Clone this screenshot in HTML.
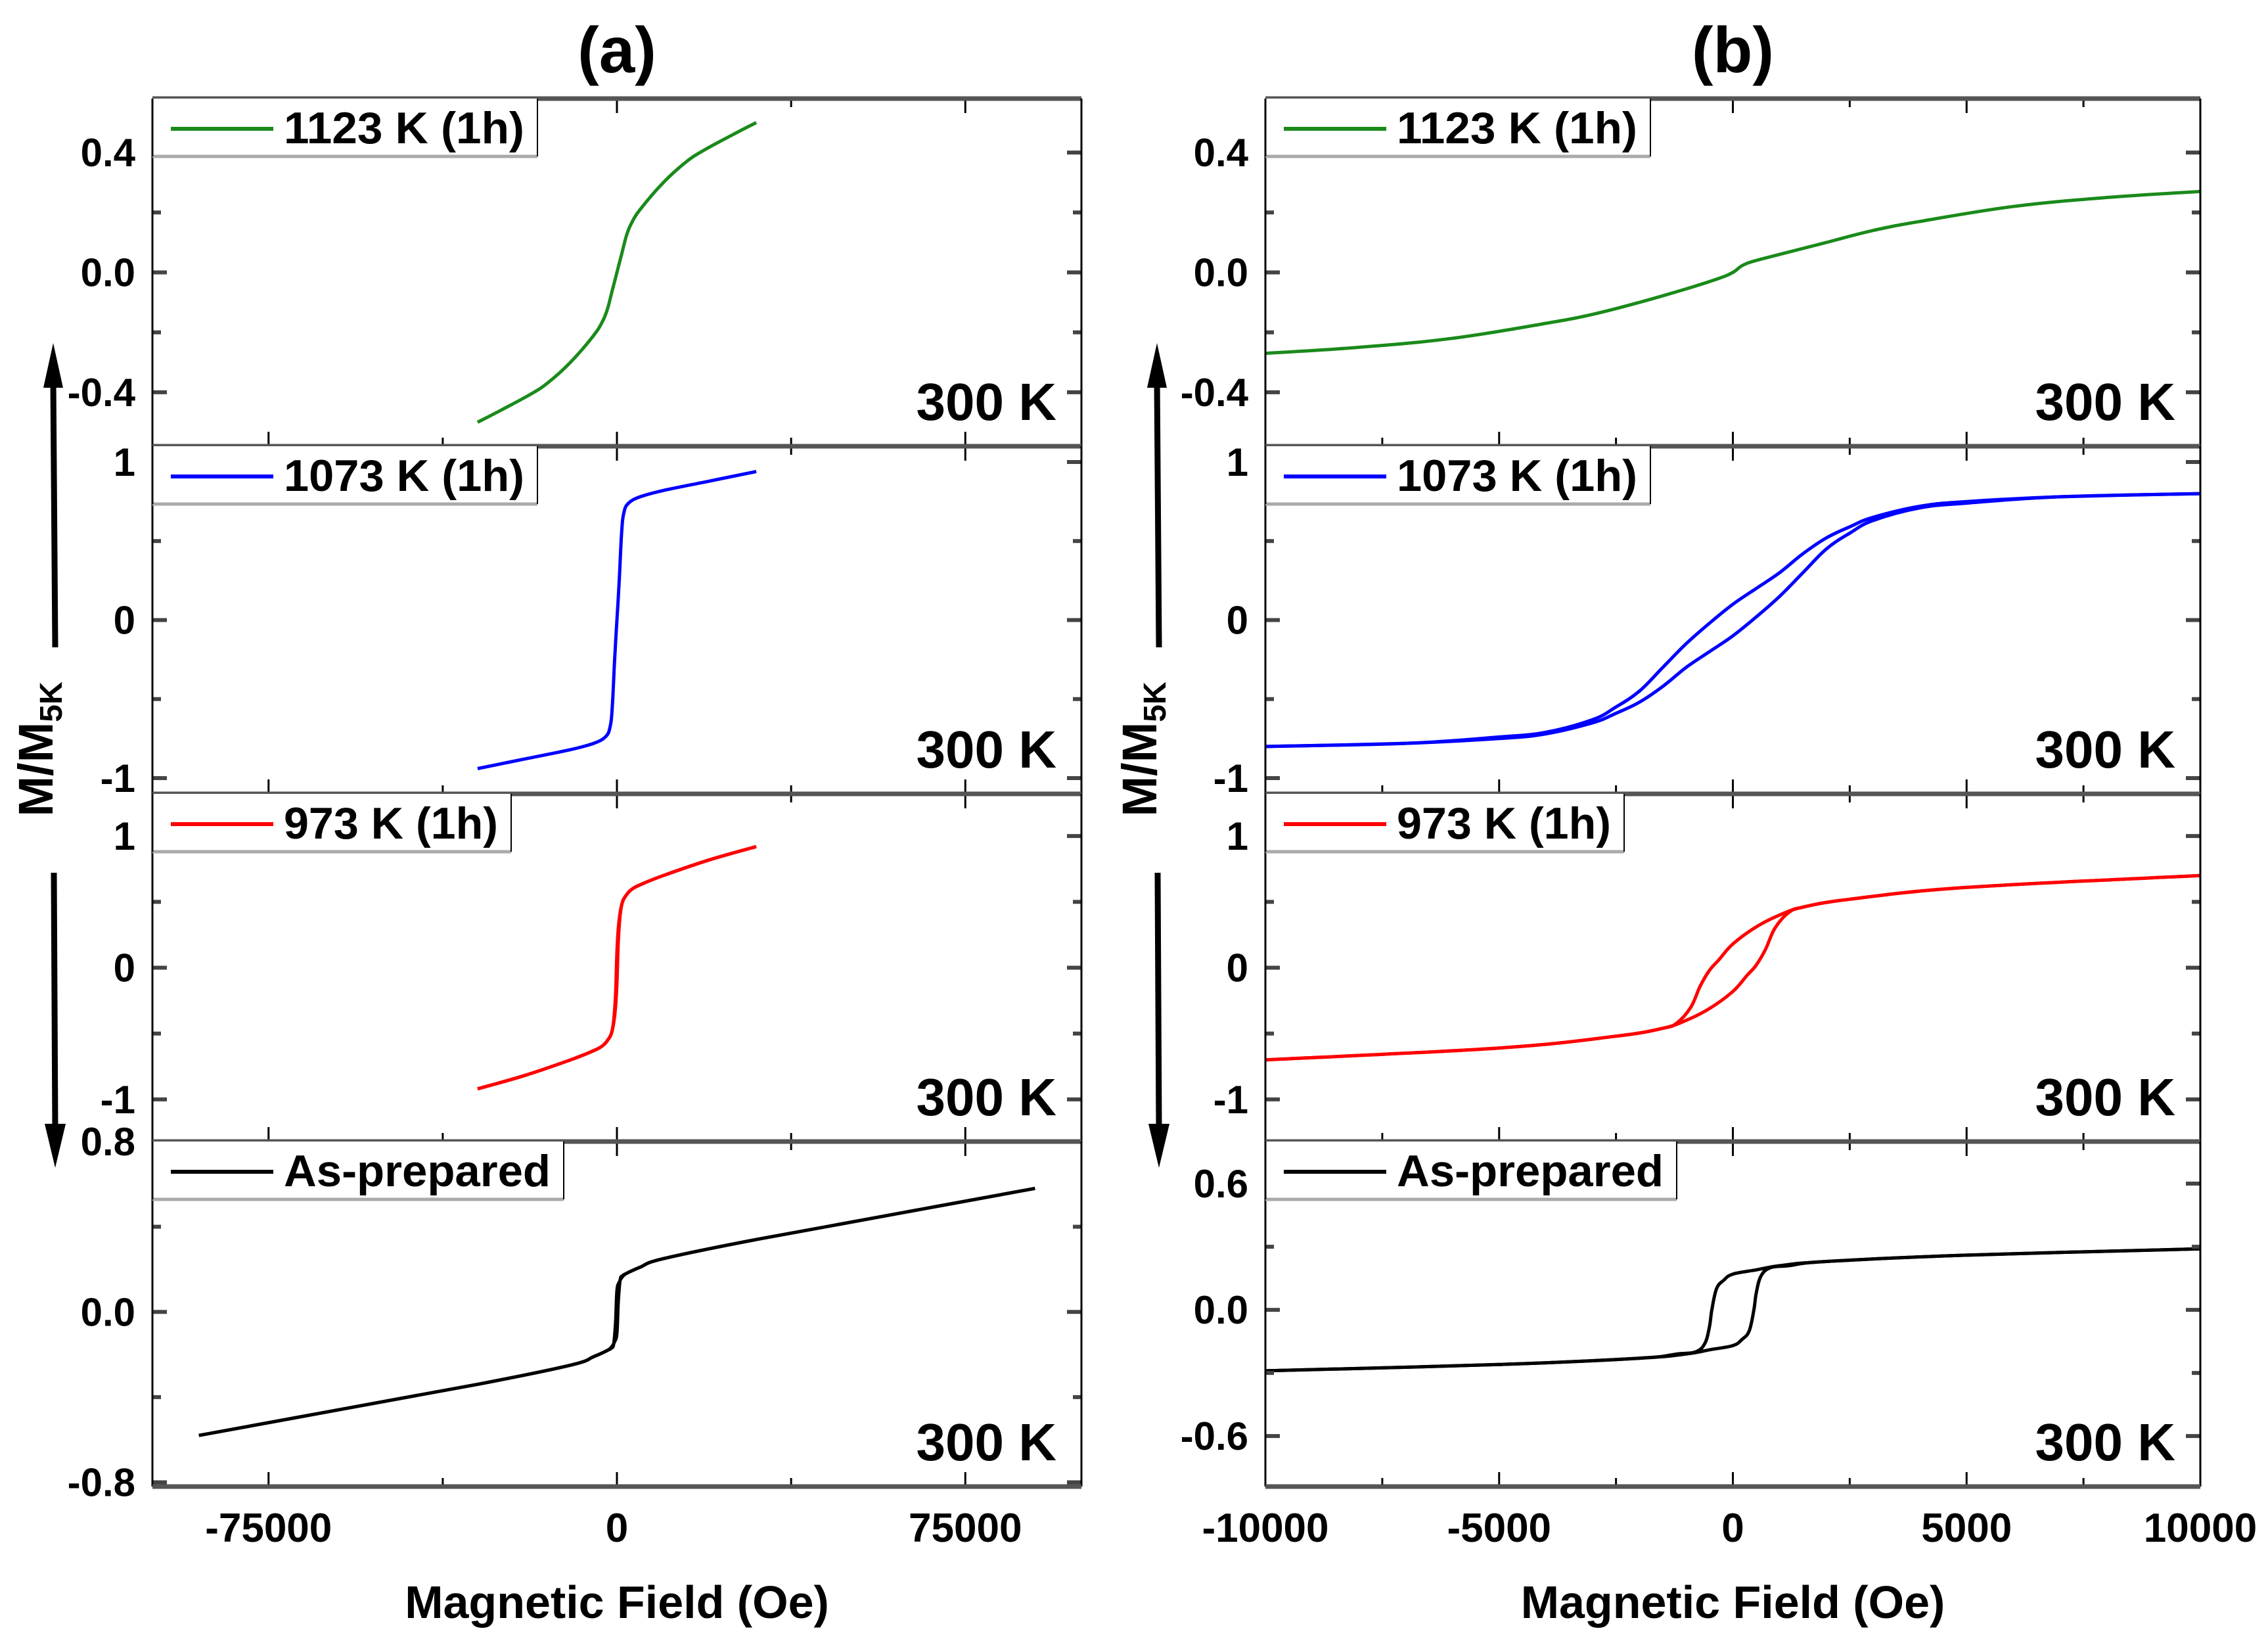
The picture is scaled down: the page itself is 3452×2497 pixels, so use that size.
<!DOCTYPE html>
<html><head><meta charset="utf-8"><style>
html,body{margin:0;padding:0;background:#fff}
svg{display:block}
text{font-family:"Liberation Sans",Arial,sans-serif;font-weight:bold;fill:#000}
</style></head><body>
<svg id="fig" width="3452" height="2497" viewBox="0 0 3452 2497" xmlns="http://www.w3.org/2000/svg"></svg>
<script>
// ---- data (Field in Oe, normalized magnetization M/M5K) ----
// Panel (a) - wide field
const aGreenH = [-30000,-25000,-19000,-15000,-10000,-5000,-3000,-2000,-1000,0,1000,2000,3000,5000,10000,15000,19000,25000,30000];
const aGreenM = [-0.50,-0.46,-0.41,-0.37,-0.30,-0.21,-0.16,-0.12,-0.06,0,0.06,0.12,0.16,0.21,0.30,0.37,0.41,0.46,0.50];
const aBlueH = [-30000,-20000,-10000,-5000,-2500,-1500,-1000,-500,0,500,1000,1500,2500,5000,10000,20000,30000];
const aBlueM = [-0.94,-0.88,-0.82,-0.78,-0.74,-0.68,-0.55,-0.25,0,0.25,0.55,0.68,0.74,0.78,0.82,0.88,0.94];
const aRedUpH = [30000,20000,10000,5000,3000,2000,1200,700,300,0,-300,-700,-1200,-2000,-3000,-5000,-10000,-20000,-30000];
const aRedUpM = [0.92,0.82,0.70,0.63,0.59,0.55,0.50,0.42,0.30,0.12,-0.20,-0.40,-0.50,-0.55,-0.59,-0.63,-0.70,-0.82,-0.92];
const aBlackUpH = [90000,60000,30000,10000,5000,2000,1000,500,0,-300,-700,-1200,-2000,-5000,-10000,-30000,-60000,-90000];
const aBlackUpM = [0.58,0.46,0.34,0.25,0.21,0.18,0.16,0.14,0.10,-0.05,-0.15,-0.17,-0.18,-0.21,-0.25,-0.34,-0.46,-0.58];
// Panel (b) - low field
const bGreenH = [-10000,-8000,-6000,-4000,-3000,-2000,-1000,-300,0,300,1000,2000,3000,4000,6000,8000,10000];
const bGreenM = [-0.27,-0.25,-0.22,-0.17,-0.14,-0.10,-0.055,-0.02,0,0.03,0.06,0.10,0.14,0.17,0.22,0.25,0.27];
const bBlueUpH = [10000,7000,5000,4000,3000,2500,2000,1500,1000,500,0,-500,-1000,-1500,-2000,-2500,-3000,-4000,-5000,-7000,-10000];
const bBlueUpM = [0.80,0.78,0.75,0.72,0.65,0.59,0.52,0.42,0.30,0.20,0.10,-0.02,-0.15,-0.30,-0.45,-0.55,-0.63,-0.71,-0.74,-0.78,-0.80];
const bRedUpH = [10000,5000,2500,1500,1000,500,0,-300,-500,-700,-900,-1200,-1500,-2500,-5000,-10000];
const bRedUpM = [0.70,0.61,0.52,0.46,0.40,0.31,0.18,0.06,-0.02,-0.14,-0.30,-0.42,-0.46,-0.52,-0.61,-0.70];
const bBlackUpH = [10000,5000,2000,1000,500,0,-200,-350,-450,-500,-600,-800,-1200,-2000,-5000,-10000];
const bBlackUpM = [0.29,0.26,0.23,0.21,0.19,0.17,0.14,0.10,0.0,-0.08,-0.16,-0.20,-0.21,-0.23,-0.26,-0.29];
// tick labels
const aXTicks = [-75000,0,75000];
const bXTicks = [-10000,-5000,0,5000,10000];
const yTicksTop = ["0.4","0.0","-0.4"];
const yTicksMid = ["1","0","-1"];
const yTicksBotA = ["0.8","0.0","-0.8"];
const yTicksBotB = ["0.6","0.0","-0.6"];

const NS="http://www.w3.org/2000/svg";
const svg=document.getElementById('fig');
function mk(tag,attrs,parent){const e=document.createElementNS(NS,tag);for(const k in attrs)e.setAttribute(k,attrs[k]);(parent||svg).appendChild(e);return e;}
function smooth(pts){
  let d='M'+pts[0][0].toFixed(1)+' '+pts[0][1].toFixed(1);
  for(let i=0;i<pts.length-1;i++){
    const p0=pts[Math.max(0,i-1)],p1=pts[i],p2=pts[i+1],p3=pts[Math.min(pts.length-1,i+2)];
    const t=0.18;
    const c1=[p1[0]+(p2[0]-p0[0])*t,p1[1]+(p2[1]-p0[1])*t];
    const c2=[p2[0]-(p3[0]-p1[0])*t,p2[1]-(p3[1]-p1[1])*t];
    d+='C'+c1[0].toFixed(1)+' '+c1[1].toFixed(1)+' '+c2[0].toFixed(1)+' '+c2[1].toFixed(1)+' '+p2[0].toFixed(1)+' '+p2[1].toFixed(1);
  }
  return d;
}

const rowsY=[150,679,1208,1737,2262];
const cols=[{x0:232,x1:1646,xmin:-100000,xmax:100000,maj:75000,min:37500,name:'a'},
            {x0:1926,x1:3349,xmin:-10000,xmax:10000,maj:5000,min:2500,name:'b'}];
const rowsCfg=[
 {lab:'1123 K (1h)',col:'#1a8a1a',ymin:-0.58,ymax:0.58,maj:0.4,min:0.2,lw:[586,586]},
 {lab:'1073 K (1h)',col:'#0000ff',ymin:-1.1,ymax:1.1,maj:1,min:0.5,lw:[586,586]},
 {lab:'973 K (1h)',col:'#ff0000',ymin:-1.32,ymax:1.32,maj:1,min:0.5,lw:[546,546]},
 {lab:'As-prepared',col:'#000000',ymin:-0.82,ymax:0.8,maj:0.8,min:0.4,lw:[626,626]}
];
rowsCfg[3].ymins=[-0.82,-0.84];
rowsCfg[3].majs=[0.8,0.6]; rowsCfg[3].mins=[0.4,0.3];
const tickLabs=[[yTicksTop,yTicksTop],[yTicksMid,yTicksMid],[yTicksMid,yTicksMid],[yTicksBotA,yTicksBotB]];
const series=[
 [[[aGreenH,aGreenM]],[[bGreenH,bGreenM]]],
 [[[aBlueH,aBlueM]],[[bBlueUpH,bBlueUpM],[bBlueUpH.map(v=>-v),bBlueUpM.map(v=>-v)]]],
 [[[aRedUpH,aRedUpM],[aRedUpH.map(v=>-v),aRedUpM.map(v=>-v)]],[[bRedUpH,bRedUpM],[bRedUpH.map(v=>-v),bRedUpM.map(v=>-v)]]],
 [[[aBlackUpH,aBlackUpM],[aBlackUpH.map(v=>-v),aBlackUpM.map(v=>-v)]],[[bBlackUpH,bBlackUpM],[bBlackUpH.map(v=>-v),bBlackUpM.map(v=>-v)]]]
];

cols.forEach((c,ci)=>{
  const sx=v=>c.x0+(v-c.xmin)/(c.xmax-c.xmin)*(c.x1-c.x0);
  rowsCfg.forEach((r,ri)=>{
    const y0=rowsY[ri], y1=rowsY[ri+1];
    const ymin=r.ymins?r.ymins[ci]:r.ymin, ymax=r.ymax;
    const maj=r.majs?r.majs[ci]:r.maj, mnr=r.mins?r.mins[ci]:r.min;
    const sy=v=>y1-(v-ymin)/(ymax-ymin)*(y1-y0);
    const g=mk('g',{});
    
    
    series[ri][ci].forEach((br,bi)=>{
      const H=br[0],M=br[1];
      const pts=H.map((h,i)=>[sx(h),sy(M[i])]);
      const p=mk('path',{d:smooth(pts),fill:'none',stroke:r.col,'stroke-width':5,'stroke-linejoin':'round'},g);
      
      
    });
    for(let v=Math.ceil(c.xmin/c.min)*c.min; v<=c.xmax; v+=c.min){
      const isMaj=Math.abs(v/c.maj-Math.round(v/c.maj))<1e-6; const L=isMaj?22:13; const X=sx(v);
      mk('line',{x1:X,x2:X,y1:y1,y2:y1-L,stroke:'#000','stroke-width':3},g);
      mk('line',{x1:X,x2:X,y1:y0,y2:y0+L,stroke:'#000','stroke-width':3},g);
    }
    for(let k=Math.ceil(ymin/mnr); k*mnr<=ymax+1e-9; k++){
      const v=k*mnr; const isMaj=Math.abs(v/maj-Math.round(v/maj))<1e-6; const L=isMaj?22:13; const Y=sy(v);
      mk('line',{x1:c.x0,x2:c.x0+L,y1:Y,y2:Y,stroke:'#444','stroke-width':6},g);
      mk('line',{x1:c.x1,x2:c.x1-L,y1:Y,y2:Y,stroke:'#444','stroke-width':6},g);
    }
    tickLabs[ri][ci].forEach(t=>{
      const t2=mk('text',{x:c.x0-26,y:sy(parseFloat(t))+21,'text-anchor':'end','font-size':60},g);
      t2.textContent=t;
      
      
    });
    mk('line',{x1:c.x0,x2:c.x1,y1:y0,y2:y0,stroke:'#555','stroke-width':7},g);
    mk('line',{x1:c.x0,x2:c.x0,y1:y0,y2:y1,stroke:'#000','stroke-width':3},g);
    mk('line',{x1:c.x1,x2:c.x1,y1:y0,y2:y1,stroke:'#000','stroke-width':3},g);
    if(ri===3) mk('line',{x1:c.x0,x2:c.x1,y1:y1,y2:y1,stroke:'#555','stroke-width':7},g);
    const lg=mk('g',{},g);
    
    
    const lw=r.lw[ci];
    mk('rect',{x:c.x0,y:y0,width:lw,height:88,fill:'#fff',stroke:'none'},lg);
    mk('line',{x1:c.x0,x2:c.x0+lw,y1:y0+88,y2:y0+88,stroke:'#aaa','stroke-width':5},lg);
    mk('line',{x1:c.x0+lw,x2:c.x0+lw,y1:y0,y2:y0+88,stroke:'#000','stroke-width':2},lg);
    mk('line',{x1:c.x0,x2:c.x0,y1:y0,y2:y0+88,stroke:'#000','stroke-width':3},lg);
    mk('line',{x1:c.x0+28,x2:c.x0+184,y1:y0+46,y2:y0+46,stroke:r.col,'stroke-width':6},lg);
    const lt=mk('text',{x:c.x0+200,y:y0+68,'font-size':68,textLength:lw-220,lengthAdjust:'spacingAndGlyphs'},lg); lt.textContent=r.lab;
    const tk=mk('text',{x:c.x1-38,y:y1-40,'text-anchor':'end','font-size':80},g);
    tk.textContent='300 K';
    
    
  });
  const ticks=ci===0?aXTicks:bXTicks;
  ticks.forEach(v=>{
    const t=mk('text',{x:sx(v),y:2346,'text-anchor':'middle','font-size':62});
    t.textContent=String(v);
    
    
  });
  const xt=mk('text',{x:(c.x0+c.x1)/2,y:2462,'text-anchor':'middle','font-size':70});
  xt.textContent='Magnetic Field (Oe)';
  
  
  const pt=mk('text',{x:(c.x0+c.x1)/2,y:110,'text-anchor':'middle','font-size':98});
  pt.textContent='('+c.name+')';
  
  
  const ax=ci===0?84:1764;
  const yl=mk('text',{transform:'translate('+(ax-4)+',1140) rotate(-90)','text-anchor':'middle','font-size':74});
  yl.innerHTML='M/M<tspan font-size="48" dy="14">5K</tspan>';
  
  
  const ua=mk('g',{});
  
  
  mk('line',{x1:ax,x2:ax-3,y1:985,y2:580,stroke:'#000','stroke-width':9},ua);
  mk('polygon',{points:(ax-3)+',522 '+(ax-18)+',590 '+(ax+12)+',590',fill:'#000'},ua);
  const da=mk('g',{});
  
  
  mk('line',{x1:ax-2,x2:ax,y1:1328,y2:1720,stroke:'#000','stroke-width':9},da);
  mk('polygon',{points:ax+',1777 '+(ax-16)+',1710 '+(ax+16)+',1710',fill:'#000'},da);
});
</script>
</body></html>
